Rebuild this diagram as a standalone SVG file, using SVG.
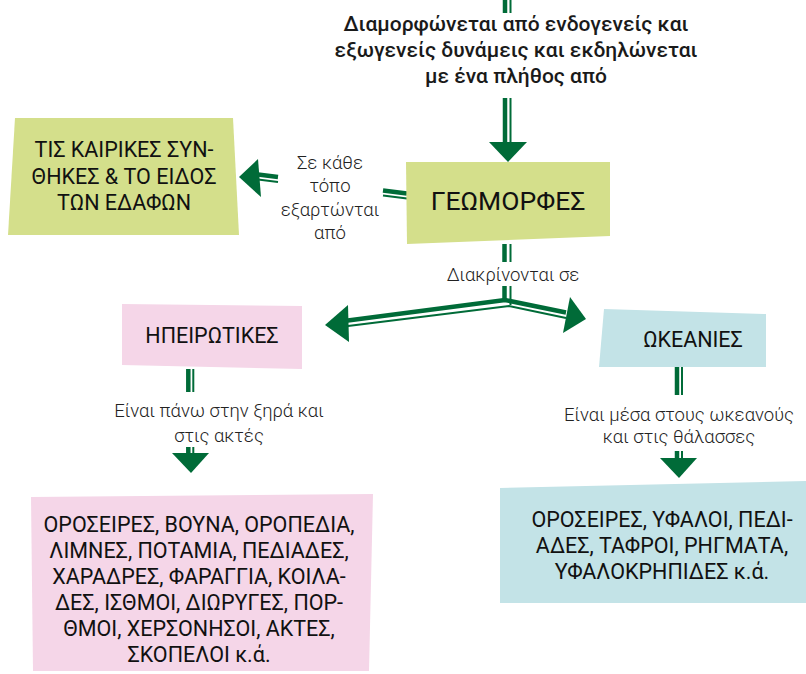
<svg xmlns="http://www.w3.org/2000/svg" width="806" height="674" viewBox="0 0 806 674">
<style>
.thick{stroke:#006b38;stroke-width:4.5;fill:none}
.thin{stroke:#006b38;stroke-width:2;fill:none}
.head{fill:#006b38}
.box{font-family:Roboto,"Liberation Sans",sans-serif;font-weight:400;font-size:21.5px;fill:#111;text-anchor:middle}
.big{font-size:26.5px}
.lbl{font-family:Roboto,"Liberation Sans",sans-serif;font-weight:300;font-size:18.5px;fill:#222;text-anchor:middle}
.top{font-family:Roboto,"Liberation Sans",sans-serif;font-weight:500;font-size:21px;fill:#1a1a1a;text-anchor:middle}
.lime{fill:#d4df8b}
.pink{fill:#f5d6e8}
.blue{fill:#c3e3e7}
</style>
<rect width="806" height="674" fill="#fff"/>
<g id="connectors">
<line class="thick" x1="505" y1="0" x2="505" y2="13"/>
<line class="thin" x1="510.5" y1="0" x2="510.5" y2="13"/>
<line class="thick" x1="505" y1="98" x2="505" y2="146"/>
<line class="thin" x1="510.5" y1="98" x2="510.5" y2="146"/>
<polygon class="head" points="489,142 527,142 508,162"/>
<line class="thick" x1="407" y1="193.5" x2="383" y2="190.5"/>
<line class="thin" x1="407" y1="198.5" x2="383" y2="195.5"/>
<line class="thick" x1="278" y1="177" x2="254" y2="174"/>
<line class="thin" x1="278" y1="182" x2="254" y2="179"/>
<polygon class="head" points="239,177 258,159 261,197"/>
<line class="thick" x1="504.5" y1="244" x2="504.5" y2="262"/>
<line class="thin" x1="510.5" y1="244" x2="510.5" y2="262"/>
<line class="thick" x1="504.5" y1="286" x2="504.5" y2="301"/>
<line class="thin" x1="510.5" y1="286" x2="510.5" y2="305"/>
<polyline class="thick" points="344,321 505,300 566,312.5"/>
<polyline class="thin" points="344,326.5 509,306 566,318"/>
<polygon class="head" points="325,325 348,305 349,342"/>
<polygon class="head" points="586,319 570,297 563,333"/>
<line class="thick" x1="188.3" y1="369" x2="188.3" y2="392"/>
<line class="thin" x1="193.3" y1="369" x2="193.3" y2="392"/>
<line class="thick" x1="188.3" y1="447" x2="188.3" y2="455"/>
<line class="thin" x1="193.3" y1="447" x2="193.3" y2="455"/>
<polygon class="head" points="172,453 209,453 191,473"/>
<line class="thick" x1="677" y1="367" x2="677" y2="395"/>
<line class="thin" x1="682" y1="367" x2="682" y2="395"/>
<line class="thick" x1="677" y1="451" x2="677" y2="460"/>
<line class="thin" x1="682" y1="451" x2="682" y2="460"/>
<polygon class="head" points="660,458 697,458 679,478"/>
</g>
<g id="label-top">
<text class="top" x="516" y="31">Διαμορφώνεται από ενδογενείς και</text>
<text class="top" x="516" y="57">εξωγενείς δυνάμεις και εκδηλώνεται</text>
<text class="top" x="516" y="83">με ένα πλήθος από</text>
</g>
<g id="node-geomorfes">
<polygon class="lime" points="406,162 610,162 610,236 407,244"/>
<text class="box big" x="508" y="210">ΓΕΩΜΟΡΦΕΣ</text>
</g>
<g id="node-kairikes">
<polygon class="lime" points="15,118 233,118 239,235 8,235"/>
<text class="box" x="124" y="157">ΤΙΣ ΚΑΙΡΙΚΕΣ ΣΥΝ-</text>
<text class="box" x="124" y="184">ΘΗΚΕΣ &amp; ΤΟ ΕΙΔΟΣ</text>
<text class="box" x="124" y="210">ΤΩΝ ΕΔΑΦΩΝ</text>
</g>
<g id="label-left">
<text class="lbl" x="330" y="169">Σε κάθε</text>
<text class="lbl" x="330" y="192">τόπο</text>
<text class="lbl" x="330" y="216">εξαρτώνται</text>
<text class="lbl" x="330" y="239">από</text>
</g>
<g id="label-fork">
<text class="lbl" x="513" y="281">Διακρίνονται σε</text>
</g>
<g id="node-ipeirotikes">
<polygon class="pink" points="122,304 302,306 302,369 122,365"/>
<text class="box" x="212" y="343">ΗΠΕΙΡΩΤΙΚΕΣ</text>
</g>
<g id="node-okeanies">
<polygon class="blue" points="604,309 766,314 766,367 599,367"/>
<text class="box" x="693" y="347">ΩΚΕΑΝΙΕΣ</text>
</g>
<g id="label-ipeir">
<text class="lbl" x="219" y="417">Είναι πάνω στην ξηρά και</text>
<text class="lbl" x="219" y="442">στις ακτές</text>
</g>
<g id="label-okean">
<text class="lbl" x="679" y="421">Είναι μέσα στους ωκεανούς</text>
<text class="lbl" x="679" y="443">και στις θάλασσες</text>
</g>
<g id="node-ipeir-list">
<polygon class="pink" points="31,497 373,494 369,671 33,671"/>
<text class="box" x="199" y="532">ΟΡΟΣΕΙΡΕΣ, ΒΟΥΝΑ, ΟΡΟΠΕΔΙΑ,</text>
<text class="box" x="199" y="558">ΛΙΜΝΕΣ, ΠΟΤΑΜΙΑ, ΠΕΔΙΑΔΕΣ,</text>
<text class="box" x="199" y="584">ΧΑΡΑΔΡΕΣ, ΦΑΡΑΓΓΙΑ, ΚΟΙΛΑ-</text>
<text class="box" x="199" y="610">ΔΕΣ, ΙΣΘΜΟΙ, ΔΙΩΡΥΓΕΣ, ΠΟΡ-</text>
<text class="box" x="199" y="636">ΘΜΟΙ, ΧΕΡΣΟΝΗΣΟΙ, ΑΚΤΕΣ,</text>
<text class="box" x="199" y="662">ΣΚΟΠΕΛΟΙ κ.ά.</text>
</g>
<g id="node-okean-list">
<polygon class="blue" points="500,488 806,481 806,603 500,603"/>
<text class="box" x="662" y="527">ΟΡΟΣΕΙΡΕΣ, ΥΦΑΛΟΙ, ΠΕΔΙ-</text>
<text class="box" x="662" y="553">ΑΔΕΣ, ΤΑΦΡΟΙ, ΡΗΓΜΑΤΑ,</text>
<text class="box" x="662" y="579">ΥΦΑΛΟΚΡΗΠΙΔΕΣ κ.ά.</text>
</g>
</svg>
